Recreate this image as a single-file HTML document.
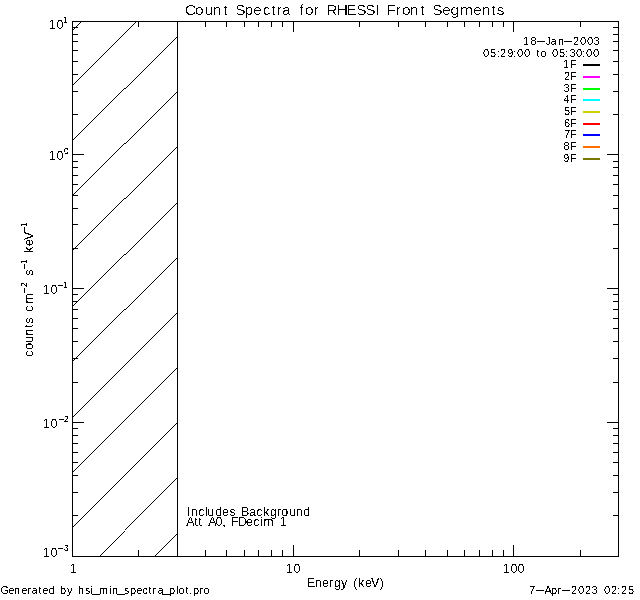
<!DOCTYPE html>
<html lang="en"><head><meta charset="utf-8"><title>Count Spectra for RHESSI Front Segments</title>
<style>
html,body{margin:0;padding:0;background:#fff;}
svg{display:block;}
text{font-family:"Liberation Sans",sans-serif;fill:#000;white-space:pre;}
</style></head><body>
<svg width="640" height="600" viewBox="0 0 640 600">
<defs>
<filter id="thr" filterUnits="userSpaceOnUse" x="0" y="0" width="640" height="600" color-interpolation-filters="sRGB">
<feComponentTransfer><feFuncA type="discrete" tableValues="0 0 0 0 0 0 0 0 0 1 1 1 1 1 1 1 1 1 1 1"/></feComponentTransfer>
</filter>
<filter id="thrt" filterUnits="userSpaceOnUse" x="0" y="0" width="640" height="600" color-interpolation-filters="sRGB">
<feComponentTransfer><feFuncA type="discrete" tableValues="0 0 0 0 0 0 0 0 0 0 0 0 1 1 1 1 1 1 1 1"/></feComponentTransfer>
</filter>
<filter id="thr3" filterUnits="userSpaceOnUse" x="0" y="0" width="640" height="600" color-interpolation-filters="sRGB">
<feComponentTransfer><feFuncA type="discrete" tableValues="0 0 0 0 0 0 0 0 0 1 1 1 1 1 1 1 1 1 1 1"/></feComponentTransfer>
</filter>
<clipPath id="hc"><rect x="72" y="21" width="106" height="536"/></clipPath>
</defs>
<rect x="0" y="0" width="640" height="600" fill="#fff"/>
<g fill="#000" shape-rendering="crispEdges">
<rect x="72" y="21" width="547" height="1"/>
<rect x="72" y="556" width="547" height="1"/>
<rect x="72" y="21" width="1" height="536"/>
<rect x="618" y="21" width="1" height="536"/>
<rect x="177" y="21" width="1" height="536"/>
<rect x="138" y="21" width="1" height="6"/>
<rect x="138" y="550" width="1" height="7"/>
<rect x="177" y="21" width="1" height="6"/>
<rect x="177" y="550" width="1" height="7"/>
<rect x="205" y="21" width="1" height="6"/>
<rect x="205" y="550" width="1" height="7"/>
<rect x="226" y="21" width="1" height="6"/>
<rect x="226" y="550" width="1" height="7"/>
<rect x="244" y="21" width="1" height="6"/>
<rect x="244" y="550" width="1" height="7"/>
<rect x="258" y="21" width="1" height="6"/>
<rect x="258" y="550" width="1" height="7"/>
<rect x="271" y="21" width="1" height="6"/>
<rect x="271" y="550" width="1" height="7"/>
<rect x="282" y="21" width="1" height="6"/>
<rect x="282" y="550" width="1" height="7"/>
<rect x="293" y="21" width="1" height="11"/>
<rect x="293" y="545" width="1" height="12"/>
<rect x="359" y="21" width="1" height="6"/>
<rect x="359" y="550" width="1" height="7"/>
<rect x="398" y="21" width="1" height="6"/>
<rect x="398" y="550" width="1" height="7"/>
<rect x="425" y="21" width="1" height="6"/>
<rect x="425" y="550" width="1" height="7"/>
<rect x="447" y="21" width="1" height="6"/>
<rect x="447" y="550" width="1" height="7"/>
<rect x="464" y="21" width="1" height="6"/>
<rect x="464" y="550" width="1" height="7"/>
<rect x="479" y="21" width="1" height="6"/>
<rect x="479" y="550" width="1" height="7"/>
<rect x="492" y="21" width="1" height="6"/>
<rect x="492" y="550" width="1" height="7"/>
<rect x="503" y="21" width="1" height="6"/>
<rect x="503" y="550" width="1" height="7"/>
<rect x="513" y="21" width="1" height="11"/>
<rect x="513" y="545" width="1" height="12"/>
<rect x="580" y="21" width="1" height="6"/>
<rect x="580" y="550" width="1" height="7"/>
<rect x="72" y="515" width="6" height="1"/>
<rect x="613" y="515" width="6" height="1"/>
<rect x="72" y="492" width="6" height="1"/>
<rect x="613" y="492" width="6" height="1"/>
<rect x="72" y="475" width="6" height="1"/>
<rect x="613" y="475" width="6" height="1"/>
<rect x="72" y="462" width="6" height="1"/>
<rect x="613" y="462" width="6" height="1"/>
<rect x="72" y="452" width="6" height="1"/>
<rect x="613" y="452" width="6" height="1"/>
<rect x="72" y="443" width="6" height="1"/>
<rect x="613" y="443" width="6" height="1"/>
<rect x="72" y="435" width="6" height="1"/>
<rect x="613" y="435" width="6" height="1"/>
<rect x="72" y="428" width="6" height="1"/>
<rect x="613" y="428" width="6" height="1"/>
<rect x="72" y="422" width="12" height="1"/>
<rect x="607" y="422" width="12" height="1"/>
<rect x="72" y="382" width="6" height="1"/>
<rect x="613" y="382" width="6" height="1"/>
<rect x="72" y="358" width="6" height="1"/>
<rect x="613" y="358" width="6" height="1"/>
<rect x="72" y="341" width="6" height="1"/>
<rect x="613" y="341" width="6" height="1"/>
<rect x="72" y="328" width="6" height="1"/>
<rect x="613" y="328" width="6" height="1"/>
<rect x="72" y="318" width="6" height="1"/>
<rect x="613" y="318" width="6" height="1"/>
<rect x="72" y="309" width="6" height="1"/>
<rect x="613" y="309" width="6" height="1"/>
<rect x="72" y="301" width="6" height="1"/>
<rect x="613" y="301" width="6" height="1"/>
<rect x="72" y="294" width="6" height="1"/>
<rect x="613" y="294" width="6" height="1"/>
<rect x="72" y="288" width="12" height="1"/>
<rect x="607" y="288" width="12" height="1"/>
<rect x="72" y="248" width="6" height="1"/>
<rect x="613" y="248" width="6" height="1"/>
<rect x="72" y="224" width="6" height="1"/>
<rect x="613" y="224" width="6" height="1"/>
<rect x="72" y="208" width="6" height="1"/>
<rect x="613" y="208" width="6" height="1"/>
<rect x="72" y="195" width="6" height="1"/>
<rect x="613" y="195" width="6" height="1"/>
<rect x="72" y="184" width="6" height="1"/>
<rect x="613" y="184" width="6" height="1"/>
<rect x="72" y="175" width="6" height="1"/>
<rect x="613" y="175" width="6" height="1"/>
<rect x="72" y="167" width="6" height="1"/>
<rect x="613" y="167" width="6" height="1"/>
<rect x="72" y="161" width="6" height="1"/>
<rect x="613" y="161" width="6" height="1"/>
<rect x="72" y="154" width="12" height="1"/>
<rect x="607" y="154" width="12" height="1"/>
<rect x="72" y="114" width="6" height="1"/>
<rect x="613" y="114" width="6" height="1"/>
<rect x="72" y="91" width="6" height="1"/>
<rect x="613" y="91" width="6" height="1"/>
<rect x="72" y="74" width="6" height="1"/>
<rect x="613" y="74" width="6" height="1"/>
<rect x="72" y="61" width="6" height="1"/>
<rect x="613" y="61" width="6" height="1"/>
<rect x="72" y="50" width="6" height="1"/>
<rect x="613" y="50" width="6" height="1"/>
<rect x="72" y="41" width="6" height="1"/>
<rect x="613" y="41" width="6" height="1"/>
<rect x="72" y="34" width="6" height="1"/>
<rect x="613" y="34" width="6" height="1"/>
<rect x="72" y="27" width="6" height="1"/>
<rect x="613" y="27" width="6" height="1"/>
</g>
<g stroke="#000" stroke-width="1" stroke-linecap="square" clip-path="url(#hc)" fill="none" shape-rendering="crispEdges">
<line x1="72.5" y1="30.5" x2="177.5" y2="-74.5"/>
<line x1="72.5" y1="85.5" x2="177.5" y2="-19.5"/>
<line x1="72.5" y1="140.5" x2="124.5" y2="88.5"/>
<line x1="125.5" y1="88.5" x2="177.5" y2="36.5"/>
<line x1="72.5" y1="195.5" x2="124.5" y2="143.5"/>
<line x1="125.5" y1="143.5" x2="177.5" y2="91.5"/>
<line x1="72.5" y1="250.5" x2="124.5" y2="198.5"/>
<line x1="125.5" y1="198.5" x2="177.5" y2="146.5"/>
<line x1="72.5" y1="306.5" x2="124.5" y2="254.5"/>
<line x1="125.5" y1="254.5" x2="177.5" y2="202.5"/>
<line x1="72.5" y1="361.5" x2="124.5" y2="309.5"/>
<line x1="125.5" y1="309.5" x2="177.5" y2="257.5"/>
<line x1="72.5" y1="417.5" x2="177.5" y2="312.5"/>
<line x1="72.5" y1="472.5" x2="177.5" y2="367.5"/>
<line x1="72.5" y1="527.5" x2="177.5" y2="422.5"/>
<line x1="72.5" y1="583.5" x2="124.5" y2="531.5"/>
<line x1="125.5" y1="529.5" x2="177.5" y2="477.5"/>
<line x1="72.5" y1="638.5" x2="177.5" y2="533.5"/>
</g>
<g shape-rendering="crispEdges">
<rect x="583" y="64" width="17" height="2" fill="#000000"/>
<rect x="583" y="76" width="17" height="2" fill="#ff00ff"/>
<rect x="583" y="88" width="17" height="2" fill="#00ff00"/>
<rect x="583" y="99" width="17" height="2" fill="#00ffff"/>
<rect x="583" y="111" width="17" height="2" fill="#d0d000"/>
<rect x="583" y="123" width="17" height="2" fill="#ff0000"/>
<rect x="583" y="134" width="17" height="2" fill="#0000ff"/>
<rect x="583" y="146" width="17" height="2" fill="#ff7000"/>
<rect x="583" y="158" width="17" height="2" fill="#787800"/>
</g>
<g filter="url(#thrt)" xml:space="preserve">
<text id="title" y="15" font-size="15.5"><tspan x="185 195 204.5 213 223.25 229 235.25 244.5 253.25 262.75 271.25 276.5 282 293 299.25 305 313.5 321 326.25 336.75 346.25 356.25 365.25 375 381 386.25 395.5 402 410 420.25 427 432.25 442.25 450.5 460 473.25 482 491.25 496.75">Count Spectra for RHESSI Front Segments</tspan></text>
</g>
<g filter="url(#thr)" xml:space="preserve">
<text id="xt" y="587" font-size="12.5"><tspan x="306.75 315 322 328.75 334 341 349 353.25 358 365 371 379.75">Energy (keV)</tspan></text>
<text id="x1" y="573" font-size="12.5"><tspan x="69.75">1</tspan></text>
<text id="x10" y="573" font-size="12.5"><tspan x="285.75 293.5">10</tspan></text>
<text id="x100" y="573" font-size="12.5"><tspan x="502.75 510.5 517.5">100</tspan></text>
<text id="y1" y="29" font-size="12.5"><tspan x="48.75 56.5">10</tspan><tspan x="63" dy="-6" font-size="8.5">1</tspan></text>
<text id="y0" y="160" font-size="12.5"><tspan x="48.75 56.5">10</tspan><tspan x="64" dy="-6" font-size="8.5">0</tspan></text>
<text id="ym1" y="294" font-size="12.5"><tspan x="42.75 50.5">10</tspan><tspan x="57.0" dy="-6.5" font-size="8.5" textLength="7.16" lengthAdjust="spacingAndGlyphs">-</tspan><tspan x="63" dy="0.5" font-size="8.5">1</tspan></text>
<text id="ym2" y="428" font-size="12.5"><tspan x="42.75 50.5">10</tspan><tspan x="57.6" dy="-6.5" font-size="8.5" textLength="7.47" lengthAdjust="spacingAndGlyphs">-</tspan><tspan x="64" dy="0.5" font-size="8.5">2</tspan></text>
<text id="ym3" y="557" font-size="12.5"><tspan x="42.75 50.5">10</tspan><tspan x="57.1" dy="-6.5" font-size="8.5" textLength="7.22" lengthAdjust="spacingAndGlyphs">-</tspan><tspan x="63.75" dy="0.5" font-size="8.5">3</tspan></text>
<text id="d1" y="45" font-size="11"><tspan x="523 530.5">18</tspan><tspan x="535.7" dy="-1" textLength="10.69" lengthAdjust="spacingAndGlyphs">-</tspan><tspan x="545.5 550.5 558" dy="1">Jan</tspan><tspan x="563.0" dy="-1" textLength="10.69" lengthAdjust="spacingAndGlyphs">-</tspan><tspan x="573 580 587 593.5" dy="1">2003</tspan></text>
<text id="d2" y="57" font-size="11"><tspan x="483 490 497 500 507.25 513 517 524 531 536.5 540.25 547 552 559 565 569.5 576 582 586 593">05:29:00 to 05:30:00</tspan></text>
<text id="inc" y="516" font-size="12.5"><tspan x="187 191 198.25 205 207.25 215.25 222 229.25 236 241 249 256.25 263 270 276.75 281.25 289.25 296 303.25">Includes Background</tspan></text>
<text id="att" y="526" font-size="12.5"><tspan x="186.25 194.25 198.25 204 208.25 215.5 222.25 228 231 238 246 253.25 260 263.25 275 279.75">Att A0, FDecim 1</tspan></text>
<text id="gen" y="594" font-size="11"><tspan x="0.5 8.25 14 21.25 27.25 31.5 38.5 42.25 48.5 56 60 67 74 78 85 90">Generated by hsi</tspan><tspan x="91.8" dy="-1" textLength="7.89" lengthAdjust="spacingAndGlyphs">_</tspan><tspan x="99 109 112" dy="1">min</tspan><tspan x="117.0" dy="-1" textLength="7.89" lengthAdjust="spacingAndGlyphs">_</tspan><tspan x="124 130 136.25 142.25 148.5 152.25 157.5" dy="1">spectra</tspan><tspan x="162.4" dy="-1" textLength="7.89" lengthAdjust="spacingAndGlyphs">_</tspan><tspan x="169 176 178.25 185.5 189 193 199.25 203.25" dy="1">plot.pro</tspan></text>
<text id="now" y="594" font-size="11"><tspan x="529">7</tspan><tspan x="534.9" dy="-1" textLength="10.72" lengthAdjust="spacingAndGlyphs">-</tspan><tspan x="544.5 551 557.25" dy="1">Apr</tspan><tspan x="560.9" dy="-1" textLength="10.72" lengthAdjust="spacingAndGlyphs">-</tspan><tspan x="571 578 585 591.5 599 604 611 617 621 628" dy="1">2023 02:25</tspan></text>
<text id="l1" y="68" font-size="11"><tspan x="563 570">1F</tspan></text>
<text id="l2" y="80" font-size="11"><tspan x="564 570">2F</tspan></text>
<text id="l3" y="92" font-size="11"><tspan x="563.5 570">3F</tspan></text>
<text id="l4" y="103" font-size="11"><tspan x="563.5 570">4F</tspan></text>
<text id="l5" y="115" font-size="11"><tspan x="564 570">5F</tspan></text>
<text id="l6" y="127" font-size="11"><tspan x="564 570">6F</tspan></text>
<text id="l7" y="138" font-size="11"><tspan x="564 570">7F</tspan></text>
<text id="l8" y="150" font-size="11"><tspan x="563.5 570">8F</tspan></text>
<text id="l9" y="162" font-size="11"><tspan x="563.25 570">9F</tspan></text>
</g>
<g filter="url(#thr3)" xml:space="preserve">
<text id="yt" y="0" font-size="12.5" transform="translate(33,356) rotate(-90)"><tspan x="-0.75 6.25 13.25 20 28.25 32.25 40 44.25 52.25">counts cm</tspan><tspan x="62.1" dy="-6.5" font-size="8.5" textLength="7.40" lengthAdjust="spacingAndGlyphs">-</tspan><tspan x="69" dy="0.5" font-size="8.5">2</tspan><tspan x="75 80.25" dy="6"> s</tspan><tspan x="85.6" dy="-6.5" font-size="8.5" textLength="7.40" lengthAdjust="spacingAndGlyphs">-</tspan><tspan x="92" dy="0.5" font-size="8.5">1</tspan><tspan x="98 103 110 116" dy="6"> keV</tspan><tspan x="122.7" dy="-6.5" font-size="8.5" textLength="7.40" lengthAdjust="spacingAndGlyphs">-</tspan><tspan x="129" dy="0.5" font-size="8.5">1</tspan></text>
</g>
</svg>
</body></html>
